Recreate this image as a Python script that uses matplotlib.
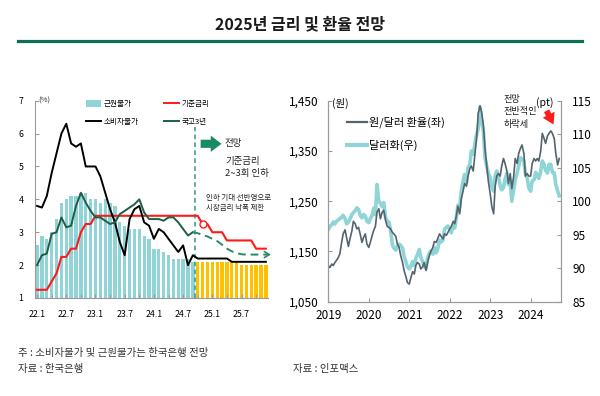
import matplotlib
matplotlib.use('Agg')
import matplotlib.pyplot as plt
import matplotlib.dates as mdates
from matplotlib.patches import Patch, FancyArrowPatch
from matplotlib.lines import Line2D
import numpy as np
import pandas as pd

plt.rcParams['font.family'] = ['Noto Sans CJK KR', 'DejaVu Sans']
plt.rcParams['axes.unicode_minus'] = False

# ---- left chart data (monthly, 22.1 ~ 25.12) ----
xtick_labels = ['22.1', '22.7', '23.1', '23.7', '24.1', '24.7', '25.1', '25.7']

core_actual = [2.6, 2.9, 2.8, 3.0, 3.4, 3.9, 4.0, 4.1, 4.1, 4.2, 4.2, 4.0,
               4.0, 3.9, 4.0, 3.9, 3.8, 3.3, 3.2, 3.1, 3.1, 3.1, 2.9, 2.8,
               2.5, 2.5, 2.4, 2.3, 2.2, 2.2, 2.2, 2.2, 2.1]
core_forecast = [2.1, 2.1, 2.1, 2.1, 2.1, 2.1, 2.1, 2.1, 2.1,
                 2.0, 2.0, 2.0, 2.0, 2.0, 2.0]

cpi = [3.8, 3.75, 4.1, 4.8, 5.4, 6.0, 6.3, 5.7, 5.6, 5.7, 5.0, 5.0,
       5.0, 4.7, 4.2, 3.7, 3.3, 2.7, 2.3, 3.4, 3.7, 3.8, 3.3, 3.2,
       2.8, 3.1, 3.0, 2.8, 2.6, 2.4, 2.6, 2.0, 2.3,
       2.2, 2.2, 2.2, 2.2, 2.2, 2.2, 2.2,
       2.1, 2.1, 2.1, 2.1, 2.1, 2.1, 2.1, 2.1]

base_rate = [1.25, 1.25, 1.25, 1.5, 1.75, 2.25, 2.25, 2.5, 2.5, 3.0, 3.25, 3.25,
             3.5, 3.5, 3.5, 3.5, 3.5, 3.5, 3.5, 3.5, 3.5, 3.5, 3.5, 3.5,
             3.5, 3.5, 3.5, 3.5, 3.5, 3.5, 3.5, 3.5, 3.5, 3.5,
             3.25, 3.25, 3.0, 3.0, 3.0, 2.75, 2.75, 2.75, 2.75, 2.75, 2.75,
             2.5, 2.5, 2.5]

ktb3y_actual = [2.0, 2.3, 2.35, 2.95, 3.0, 3.45, 3.15, 3.2, 3.8, 4.2, 3.9, 3.65,
                3.45, 3.45, 3.35, 3.25, 3.3, 3.55, 3.65, 3.75, 3.85, 4.0, 3.6, 3.4,
                3.4, 3.4, 3.35, 3.45, 3.45, 3.3, 3.1, 2.9, 3.0]
ktb3y_forecast = [3.0, 2.97, 2.92, 2.87, 2.8, 2.73, 2.62, 2.5, 2.42, 2.36,
                  2.33, 2.32, 2.32, 2.32, 2.32, 2.32]

# ---- right chart data (semi-monthly, 2019.1 ~ 2024.9) ----
krw_2019 = [1122, 1118, 1125, 1122, 1128, 1132, 1138, 1145, 1168, 1185, 1193, 1178,
            1160, 1175, 1190, 1210, 1205, 1195, 1198, 1185, 1168, 1178, 1185, 1165]
krw_2020 = [1158, 1168, 1182, 1192, 1200, 1228, 1235, 1215, 1228, 1232, 1212, 1200,
            1198, 1195, 1188, 1185, 1180, 1165, 1158, 1142, 1128, 1112, 1100, 1088]
krw_2021 = [1085, 1098, 1110, 1105, 1122, 1128, 1125, 1115, 1120, 1128, 1112, 1128,
            1142, 1150, 1158, 1170, 1168, 1176, 1185, 1180, 1175, 1185, 1182, 1188]
krw_2022 = [1195, 1200, 1210, 1205, 1220, 1240, 1225, 1255, 1270, 1285, 1280, 1300,
            1315, 1320, 1310, 1340, 1378, 1425, 1440, 1428, 1400, 1355, 1320, 1290]
krw_2023 = [1265, 1240, 1225, 1280, 1300, 1305, 1300, 1320, 1335, 1325, 1310, 1285,
            1305, 1275, 1300, 1335, 1325, 1345, 1355, 1362, 1345, 1300, 1305, 1300]
krw_2024 = [1300, 1325, 1335, 1330, 1335, 1330, 1350, 1385, 1375, 1365, 1380, 1385,
            1390, 1385, 1375, 1345, 1322, 1335]

dxy_2019 = [95.8, 96.2, 96.5, 96.9, 96.6, 97.0, 97.2, 97.4, 97.6, 97.9, 97.4, 96.6,
            96.9, 97.3, 98.0, 98.3, 98.6, 99.0, 98.8, 97.9, 97.5, 98.0, 97.8, 97.0]
dxy_2020 = [96.8, 97.4, 97.9, 99.0, 98.0, 102.5, 100.0, 99.7, 99.2, 99.8, 97.5, 97.0,
            96.9, 95.8, 93.5, 93.0, 92.7, 93.3, 93.6, 93.4, 93.0, 91.8, 91.0, 90.2]
dxy_2021 = [89.9, 90.3, 91.0, 90.4, 91.5, 92.0, 92.8, 91.6, 91.0, 90.2, 90.0, 91.5,
            92.3, 92.6, 92.1, 93.1, 92.3, 92.9, 94.2, 93.9, 94.2, 95.8, 96.1, 96.3]
dxy_2022 = [95.8, 95.3, 96.3, 96.0, 97.5, 99.4, 99.0, 101.5, 103.0, 104.0, 102.8, 105.0,
            105.5, 107.5, 107.0, 108.5, 110.0, 110.8, 114.0, 112.0, 110.5, 106.5, 105.2, 104.2]
dxy_2023 = [103.5, 102.2, 101.5, 103.8, 104.5, 103.8, 102.3, 101.7, 102.0, 103.3, 104.2, 102.5,
            102.9, 100.0, 101.8, 103.2, 104.2, 105.3, 106.5, 106.3, 106.0, 104.0, 103.5, 102.0]
dxy_2024 = [101.5, 103.0, 103.2, 104.3, 103.9, 103.4, 104.5, 106.0, 105.5, 104.6, 104.2, 105.5,
            105.5, 104.3, 104.2, 102.5, 101.5, 100.8]

krw = krw_2019 + krw_2020 + krw_2021 + krw_2022 + krw_2023 + krw_2024
dxy = dxy_2019 + dxy_2020 + dxy_2021 + dxy_2022 + dxy_2023 + dxy_2024
dates = pd.date_range('2019-01-01', periods=len(krw), freq='SMS')

CYAN = '#90d4d8'
YELLOW = '#ffc000'
RED = '#ff1a1a'
DKGREEN = '#1d5e48'
DASHGREEN = '#2a8a66'
AXGRAY = '#9a9a9a'
KRWGRAY = '#55636e'

fig = plt.figure(figsize=(6, 3.96), dpi=100)

fig.text(0.5, 1 - 24 / 396, '2025년 금리 및 환율 전망', ha='center', va='center',
         fontsize=11.5, fontweight='bold', color='#1a1a1a')
fig.add_artist(Line2D([18 / 600, 582 / 600], [1 - 40.5 / 396] * 2, color='#0f6e56', lw=2.3))

# ================= left chart =================
ax1 = fig.add_axes([0.0577, 0.2475, 0.3895, 0.4982])
x = np.arange(len(cpi))
ax1.bar(x[:len(core_actual)], core_actual, width=0.68, color=CYAN, zorder=1)
ax1.bar(x[len(core_actual):], core_forecast, width=0.68, color=YELLOW, zorder=1)

ax1.plot([32.35, 32.35], [1, 6.2], color='#2e9c78', lw=1.1, ls=(0, (3, 2.2)), zorder=2)

ax1.plot(x, base_rate, color=RED, lw=1.5, zorder=3)
ax1.plot(34, base_rate[34], 'o', ms=5, mfc='white', mec=RED, mew=1, zorder=5)
ax1.plot(x, cpi, color='black', lw=1.4, zorder=4)
ax1.plot(x[:len(ktb3y_actual)], ktb3y_actual, color=DKGREEN, lw=1.4, zorder=4)
ax1.plot(x[32:], ktb3y_forecast, color=DASHGREEN, lw=1.4, ls=(0, (4, 2.5)), zorder=4)
ax1.annotate('', xy=(48.0, ktb3y_forecast[-1]), xytext=(47.0, ktb3y_forecast[-1]),
             arrowprops=dict(arrowstyle='->,head_length=0.35,head_width=0.22',
                             color=DASHGREEN, lw=1.2, shrinkA=0, shrinkB=0),
             annotation_clip=False)

ax1.set_xlim(-0.5, 47.5)
ax1.set_ylim(1, 7)
ax1.set_yticks(range(1, 8))
ax1.set_xticks(range(0, 48, 6))
ax1.set_xticklabels(xtick_labels)
ax1.set_xticks(range(3, 48, 6), minor=True)
ax1.tick_params(axis='y', direction='in', length=3, labelsize=6.3, pad=8, color=AXGRAY)
ax1.tick_params(axis='x', which='both', direction='in', length=3, labelsize=6.3, pad=9, color=AXGRAY)
for s in ['top', 'right']:
    ax1.spines[s].set_visible(False)
for s in ['left', 'bottom']:
    ax1.spines[s].set_color(AXGRAY)
    ax1.spines[s].set_linewidth(0.8)

ax1.text(0.2, 7, '(%)', fontsize=5.5, va='center', ha='left', color='#333333')

# block arrow + forecast note
ax1.add_patch(FancyArrowPatch((33.6, 5.69), (37.9, 5.69),
                              arrowstyle='simple,head_width=0.9,head_length=0.6,tail_width=0.45',
                              mutation_scale=13, color='#1a8a64', lw=0,
                              shrinkA=0, shrinkB=0, zorder=5))
ax1.text(38.6, 5.71, '전망', fontsize=6.8, va='center', ha='left', color='#222222')
ax1.text(38.6, 5.16, '기준금리', fontsize=6.8, va='center', ha='left', color='#222222')
ax1.text(38.6, 4.78, '2~3회 인하', fontsize=6.8, va='center', ha='left', color='#222222')
ax1.text(34.8, 4.04, '인하 기대 선반영으로', fontsize=5.4, va='center', ha='left', color='#222222')
ax1.text(34.8, 3.73, '시장금리 낙폭 제한', fontsize=5.4, va='center', ha='left', color='#222222')

h_left = [Patch(facecolor=CYAN, edgecolor='none'),
          Line2D([], [], color='black', lw=1.4),
          Line2D([], [], color=RED, lw=1.4),
          Line2D([], [], color=DKGREEN, lw=1.4)]
ax1.legend(h_left, ['근원물가', '소비자물가', '기준금리', '국고3년'], ncol=2,
           loc='upper left', bbox_to_anchor=(86 / 600, 1 - 100 / 396),
           bbox_transform=fig.transFigure, frameon=False, fontsize=5.5,
           borderpad=0, borderaxespad=0, handlelength=2.0, handleheight=0.9,
           handletextpad=0.3, labelspacing=1.3, columnspacing=3.3)

# ================= right chart =================
ax2 = fig.add_axes([0.5472, 0.2381, 0.3878, 0.5076])
ax3 = ax2.twinx()
ax2.set_zorder(ax3.get_zorder() + 1)
ax2.patch.set_visible(False)

ax3.plot(dates, dxy, color='#8fd5d7', lw=2.6)
ax2.plot(dates, krw, color=KRWGRAY, lw=1.2)

ax2.set_xlim(pd.Timestamp('2019-01-01'), pd.Timestamp('2024-10-01'))
ax2.set_ylim(1050, 1450)
ax3.set_ylim(85, 115)
ax2.set_yticks([1050, 1150, 1250, 1350, 1450])
ax2.set_yticklabels(['1,050', '1,150', '1,250', '1,350', '1,450'])
ax3.set_yticks(range(85, 116, 5))
ax2.xaxis.set_major_locator(mdates.YearLocator())
ax2.xaxis.set_major_formatter(mdates.DateFormatter('%Y'))
ax2.tick_params(axis='y', direction='in', length=3, labelsize=8.5, pad=7, color=AXGRAY)
ax2.tick_params(axis='x', direction='in', length=3, labelsize=8.5, pad=5, color=AXGRAY)
ax3.tick_params(axis='y', direction='in', length=3, labelsize=8.5, pad=8, color=AXGRAY)
for a in (ax2, ax3):
    a.spines['top'].set_visible(False)
    for s in ['left', 'right', 'bottom']:
        a.spines[s].set_color(AXGRAY)
        a.spines[s].set_linewidth(0.8)

ax2.text(0.015, 0.987, '(원)', transform=ax2.transAxes, fontsize=7.5, va='center', ha='left')
ax2.text(0.967, 0.99, '(pt)', transform=ax2.transAxes, fontsize=7.5, va='center', ha='right')
ax2.text(0.752, 1.03, '전망\n전반적인\n하락세', transform=ax2.transAxes, fontsize=6.6,
         va='top', ha='left', linespacing=1.5, color='#222222')
ax2.add_patch(FancyArrowPatch((0.938, 0.95), (0.968, 0.882), transform=ax2.transAxes,
                              arrowstyle='simple,head_width=0.8,head_length=0.65,tail_width=0.35',
                              mutation_scale=12, color=RED, lw=0,
                              shrinkA=0, shrinkB=0, clip_on=False, zorder=6))

h_right = [Line2D([], [], color=KRWGRAY, lw=1.6),
           Line2D([], [], color='#8fd5d7', lw=3.0)]
ax2.legend(h_right, ['원/달러 환율(좌)', '달러화(우)'], loc='upper left',
           bbox_to_anchor=(0.079, 0.922), frameon=False, fontsize=8,
           borderpad=0, borderaxespad=0, handlelength=1.8, handletextpad=0.25,
           labelspacing=1.05)

# ================= notes =================
fig.text(18 / 600, 1 - 352.7 / 396, '주 : 소비자물가 및 근원물가는 한국은행 전망',
         fontsize=7.5, va='center', ha='left', color='#333333')
fig.text(18 / 600, 1 - 369.3 / 396, '자료 : 한국은행',
         fontsize=7.5, va='center', ha='left', color='#333333')
fig.text(293 / 600, 1 - 369.3 / 396, '자료 : 인포맥스',
         fontsize=7.5, va='center', ha='left', color='#333333')

fig.savefig('out.png', dpi=100)
